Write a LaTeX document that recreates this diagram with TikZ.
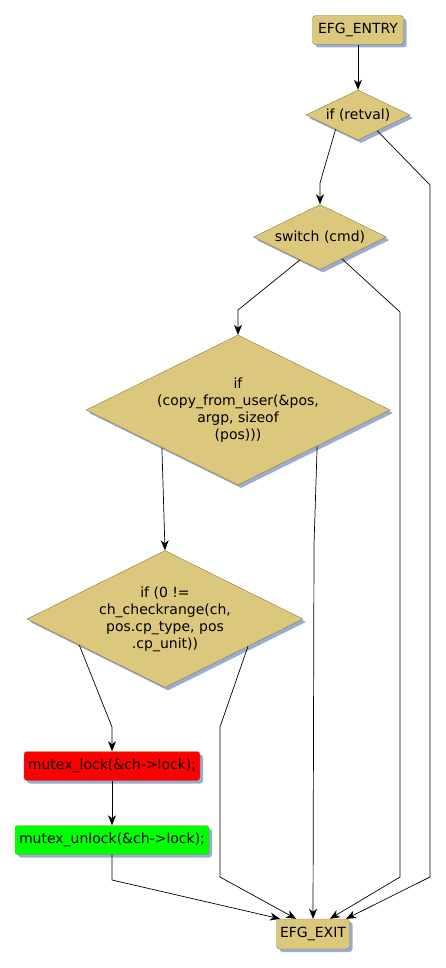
\documentclass[tikz,border=0pt]{standalone}
\usepackage{fontspec}
\setmainfont{DejaVu Sans}
\usetikzlibrary{shapes.geometric,shadows,calc,arrows.meta}

\definecolor{efgtan}{RGB}{219,200,125}
\definecolor{efgline}{RGB}{140,124,62}
\definecolor{efgshade}{RGB}{155,172,210}

\tikzset{
  efgshadow/.style={drop shadow={shadow xshift=3pt, shadow yshift=-3pt, fill=efgshade, opacity=1}},
  blk/.style={draw=efgline, fill=efgtan, rounded corners=3pt, minimum height=29, inner sep=2pt,
    font=\fontsize{14}{17}\selectfont, efgshadow},
  cond/.style={diamond, draw=efgline, fill=efgtan, inner sep=0pt, efgshadow},
  condtext/.style={font=\fontsize{14}{17}\selectfont, align=center},
  flow/.style={-{Stealth[length=10pt,width=8pt,inset=3pt]}, line width=0.7pt},
}

\begin{document}
\begin{tikzpicture}[x=1pt, y=-1pt]
\useasboundingbox (0,0) rectangle (446,968);

% nodes
\node[blk, minimum width=91] (entry) at (358,30) {EFG\_ENTRY};
\node[cond, minimum width=104, minimum height=50,
  label={[condtext]center:if (retval)}] (retval) at (358,115) {};
\node[cond, minimum width=133, minimum height=65,
  label={[condtext]center:switch (cmd)}] (switch) at (320,237) {};
\node[cond, minimum width=304, minimum height=150,
  label={[condtext]center:if\\(copy\_from\_user(\&pos,\\argp, sizeof\\(pos)))}] (copy) at (238,410) {};
\node[cond, minimum width=276, minimum height=137,
  label={[condtext]center:if (0 !=\\ch\_checkrange(ch,\\pos.cp\_type, pos\\.cp\_unit))}] (check) at (165,619) {};
\node[blk, fill=red, minimum width=176] (lock) at (112,766) {mutex\_lock(\&ch->lock);};
\node[blk, fill=green, minimum width=194] (unlock) at (112,840) {mutex\_unlock(\&ch->lock);};
\node[blk, minimum width=73, minimum height=30] (exit) at (313,934) {EFG\_EXIT};

% bend points
\coordinate (r1) at (320,183);
\coordinate (r2) at (430,185);
\coordinate (r3) at (430,877);
\coordinate (s1) at (238,310);
\coordinate (s2) at (400,312);
\coordinate (s3) at (400,877);
\coordinate (c2) at (314,545);
\coordinate (k1) at (112,727);
\coordinate (k2) at (220,727);
\coordinate (k3) at (220,877);
\coordinate (u1) at (112,880);

% edges
\draw[flow] (entry) -- (retval);
\draw[flow] ($(retval.south)!0.43!(retval.west)$) -- (r1) -- (switch.north);
\draw[flow] ($(retval.south)!0.37!(retval.east)$) -- (r2) -- (r3) -- ($(exit.north west)!0.95!(exit.north east)$);
\draw[flow] ($(switch.south)!0.3!(switch.west)$) -- (s1) -- (copy.north);
\draw[flow] ($(switch.south)!0.33!(switch.east)$) -- (s2) -- (s3) -- ($(exit.north west)!0.73!(exit.north east)$);
\draw[flow] ($(copy.south)!0.5!(copy.west)$) -- (check.north);
\draw[flow] ($(copy.south)!0.52!(copy.east)$) -- (c2) -- (exit.north);
\draw[flow] ($(check.south)!0.62!(check.west)$) -- (k1) -- (lock.north);
\draw[flow] ($(check.south)!0.6!(check.east)$) -- (k2) -- (k3) -- ($(exit.north west)!0.27!(exit.north east)$);
\draw[flow] (lock) -- (unlock);
\draw[flow] (unlock.south) -- (u1) -- ($(exit.north west)!0.05!(exit.north east)$);
\end{tikzpicture}
\end{document}
